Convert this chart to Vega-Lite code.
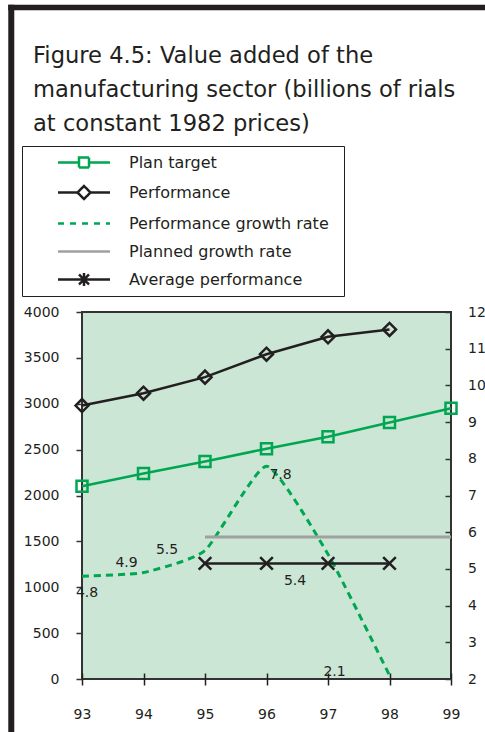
{
  "$schema": "https://vega.github.io/schema/vega-lite/v6.json",
  "width": 369,
  "height": 367,
  "autosize": {"type": "none"},
  "padding": {"left": 82, "top": 312, "right": 34, "bottom": 53},
  "background": "white",
  "title": {
    "text": ["Figure 4.5: Value added of the", "manufacturing sector (billions of rials", "at constant 1982 prices)"],
    "anchor": "start",
    "frame": "group",
    "orient": "top",
    "font": "DejaVu Sans",
    "fontSize": 22.6,
    "fontWeight": "normal",
    "color": "#231f20",
    "lineHeight": 34,
    "dx": -49,
    "offset": -134
  },
  "config": {
    "view": {"stroke": "#333333", "strokeWidth": 2, "fill": "#cbe6d5"},
    "font": "DejaVu Sans",
    "axis": {"labelOverlap": false, "labelFlush": false, "labelBound": false, "grid": false},
    "axisRight": {"tickCount": 11, "labelOverlap": false}
  },
  "data": {
    "values": [
      {"year": 93, "series": "Plan target", "value": 2100},
      {"year": 94, "series": "Plan target", "value": 2240},
      {"year": 95, "series": "Plan target", "value": 2370},
      {"year": 96, "series": "Plan target", "value": 2510},
      {"year": 97, "series": "Plan target", "value": 2640},
      {"year": 98, "series": "Plan target", "value": 2795},
      {"year": 99, "series": "Plan target", "value": 2950},
      {"year": 93, "series": "Performance", "value": 2980},
      {"year": 94, "series": "Performance", "value": 3115},
      {"year": 95, "series": "Performance", "value": 3290},
      {"year": 96, "series": "Performance", "value": 3540},
      {"year": 97, "series": "Performance", "value": 3730},
      {"year": 98, "series": "Performance", "value": 3810},
      {"year": 93, "series": "Performance growth rate", "value": 4.8},
      {"year": 94, "series": "Performance growth rate", "value": 4.9},
      {"year": 95, "series": "Performance growth rate", "value": 5.5},
      {"year": 96, "series": "Performance growth rate", "value": 7.8},
      {"year": 97, "series": "Performance growth rate", "value": 5.4},
      {"year": 98, "series": "Performance growth rate", "value": 2.1},
      {"year": 95, "series": "Planned growth rate", "value": 5.87},
      {"year": 96, "series": "Planned growth rate", "value": 5.87},
      {"year": 97, "series": "Planned growth rate", "value": 5.87},
      {"year": 98, "series": "Planned growth rate", "value": 5.87},
      {"year": 99, "series": "Planned growth rate", "value": 5.87},
      {"year": 95, "series": "Average performance", "value": 5.15},
      {"year": 96, "series": "Average performance", "value": 5.15},
      {"year": 97, "series": "Average performance", "value": 5.15},
      {"year": 98, "series": "Average performance", "value": 5.15}
    ]
  },
  "resolve": {"scale": {"y": "independent"}},
  "layer": [
    {
      "layer": [
        {
          "transform": [{"filter": "datum.series === 'Plan target'"}],
          "mark": {"type": "line", "strokeWidth": 2.5, "point": {"shape": "square", "filled": false, "size": 121, "strokeWidth": 2.5}},
          "encoding": {
            "x": {
              "field": "year", "type": "quantitative",
              "scale": {"domain": [93, 99], "nice": false, "zero": false},
              "axis": {
                "values": [93, 94, 95, 96, 97, 98, 99], "format": "d", "title": null, "grid": false,
                "domain": false, "offset": -6, "tickSize": 12, "tickColor": "#231f20", "tickWidth": 1.5,
                "labelFont": "DejaVu Sans", "labelFontSize": 14, "labelColor": "#231f20", "labelPadding": 22,
                "labelFlush": false, "labelOverlap": false, "labelBound": false
              }
            },
            "y": {
              "field": "value", "type": "quantitative",
              "scale": {"domain": [0, 4000], "nice": false, "zero": false},
              "axis": {
                "values": [0, 500, 1000, 1500, 2000, 2500, 3000, 3500, 4000], "format": "d", "title": null, "grid": false,
                "domain": false, "tickSize": 6, "tickColor": "#333333", "tickWidth": 1.5,
                "labelFont": "DejaVu Sans", "labelFontSize": 14, "labelColor": "#231f20", "labelPadding": 17,
                "labelFlush": false, "labelOverlap": false, "labelBound": false
              }
            },
            "color": {
              "field": "series", "type": "nominal",
              "scale": {
                "domain": ["Plan target", "Performance", "Performance growth rate", "Planned growth rate", "Average performance"],
                "range": ["#00a651", "#231f20", "#00a651", "#a0a0a0", "#231f20"]
              },
              "legend": {
                "orient": "none", "legendX": -60, "legendY": -166, "title": null,
                "padding": 5, "strokeColor": "#231f20", "fillColor": "white",
                "symbolSize": 400, "symbolStrokeWidth": 2.5, "symbolOffset": 45.5, "labelOffset": 33.5,
                "rowPadding": 8, "labelFont": "DejaVu Sans", "labelFontSize": 16, "labelColor": "#231f20", "labelLimit": 400,
                "encode": {
                  "symbols": {
                    "update": {
                      "shape": {"signal": "datum.value === 'Plan target' ? 'M-5.7,0M25,0M-2.6,0H-0.5M0.5,0H2.6M-0.5,-0.5H0.5V0.5H-0.5Z' : datum.value === 'Performance' ? 'M-5.7,0M25,0M-2.6,0H-0.65M0.65,0H2.6M-0.65,0L0,-0.65L0.65,0L0,0.65Z' : datum.value === 'Average performance' ? 'M-5.7,0M25,0M-2.6,0H2.6M-0.5,-0.5L0.5,0.5M0.5,-0.5L-0.5,0.5M0,-0.65V0.65' : 'M-5.7,0M25,0M-2.6,0H2.6'"},
                      "strokeDash": {"signal": "datum.value === 'Performance growth rate' ? [6, 6] : [1, 0]"},
                      "stroke": {"signal": "scale('color', datum.value)"},
                      "fill": {"value": "white"},
                      "strokeWidth": {"value": 2.5},
                      "opacity": {"value": 1}
                    }
                  }
                }
              }
            }
          }
        },
        {
          "transform": [{"filter": "datum.series === 'Performance'"}],
          "mark": {"type": "line", "strokeWidth": 2.5, "point": {"shape": "diamond", "filled": false, "size": 169, "strokeWidth": 2.5}},
          "encoding": {
            "x": {"field": "year", "type": "quantitative"},
            "y": {"field": "value", "type": "quantitative"},
            "color": {"field": "series", "type": "nominal"}
          }
        },
        {
          "data": {"values": [{"part": "left"}]},
          "mark": {"type": "rule", "strokeWidth": 6, "color": "#231f20"},
          "encoding": {
            "x": {"datum": 91.85},
            "y": {"datum": 7349},
            "y2": {"datum": -600}
          }
        },
        {
          "data": {"values": [{"part": "top"}]},
          "mark": {"type": "rule", "strokeWidth": 5.6, "color": "#231f20"},
          "encoding": {
            "x": {"datum": 91.8},
            "x2": {"datum": 100},
            "y": {"datum": 7319}
          }
        }
      ]
    },
    {
      "layer": [
        {
          "transform": [{"filter": "datum.series === 'Performance growth rate'"}],
          "mark": {"type": "line", "strokeWidth": 3, "strokeDash": [7, 5], "interpolate": "cardinal", "tension": 0.5},
          "encoding": {
            "x": {"field": "year", "type": "quantitative"},
            "y": {
              "field": "value", "type": "quantitative",
              "scale": {"domain": [2, 12], "nice": false, "zero": false},
              "axis": {"orient": "right", "values": [2, 3, 4, 5, 6, 7, 8, 9, 10, 11, 12], "tickCount": 11, "format": "d", "title": null, "grid": false, "domain": false, "offset": -6, "tickSize": 6, "tickColor": "#333333", "tickWidth": 1.5, "labelFont": "DejaVu Sans", "labelFontSize": 14, "labelColor": "#231f20", "labelPadding": 16.5, "labelFlush": false, "labelOverlap": false, "labelBound": false}
            },
            "color": {"field": "series", "type": "nominal"}
          }
        },
        {
          "transform": [{"filter": "datum.series === 'Planned growth rate'"}],
          "mark": {"type": "line", "strokeWidth": 3},
          "encoding": {
            "x": {"field": "year", "type": "quantitative"},
            "y": {"field": "value", "type": "quantitative",
              "axis": {"orient": "right", "values": [2, 3, 4, 5, 6, 7, 8, 9, 10, 11, 12], "tickCount": 11, "format": "d", "title": null, "grid": false, "domain": false, "offset": -6, "tickSize": 6, "tickColor": "#333333", "tickWidth": 1.5, "labelFont": "DejaVu Sans", "labelFontSize": 14, "labelColor": "#231f20", "labelPadding": 16.5, "labelFlush": false, "labelOverlap": false, "labelBound": false}},
            "color": {"field": "series", "type": "nominal"}
          }
        },
        {
          "transform": [{"filter": "datum.series === 'Average performance'"}],
          "mark": {"type": "line", "strokeWidth": 2.5, "point": {"shape": "M-1,-1L1,1M1,-1L-1,1", "filled": false, "size": 160, "strokeWidth": 2.5}},
          "encoding": {
            "x": {"field": "year", "type": "quantitative"},
            "y": {"field": "value", "type": "quantitative",
              "axis": {"orient": "right", "values": [2, 3, 4, 5, 6, 7, 8, 9, 10, 11, 12], "tickCount": 11, "format": "d", "title": null, "grid": false, "domain": false, "offset": -6, "tickSize": 6, "tickColor": "#333333", "tickWidth": 1.5, "labelFont": "DejaVu Sans", "labelFontSize": 14, "labelColor": "#231f20", "labelPadding": 16.5, "labelFlush": false, "labelOverlap": false, "labelBound": false}},
            "color": {"field": "series", "type": "nominal"}
          }
        },
        {
          "transform": [{"filter": "datum.series === 'Performance growth rate' && datum.year === 93"}],
          "mark": {"type": "text", "dx": 5, "dy": 17, "fontSize": 14, "font": "DejaVu Sans", "color": "#231f20"},
          "encoding": {
            "x": {"field": "year", "type": "quantitative"},
            "y": {"field": "value", "type": "quantitative",
              "axis": {"orient": "right", "values": [2, 3, 4, 5, 6, 7, 8, 9, 10, 11, 12], "tickCount": 11, "format": "d", "title": null, "grid": false, "domain": false, "offset": -6, "tickSize": 6, "tickColor": "#333333", "tickWidth": 1.5, "labelFont": "DejaVu Sans", "labelFontSize": 14, "labelColor": "#231f20", "labelPadding": 16.5, "labelFlush": false, "labelOverlap": false, "labelBound": false}},
            "text": {"field": "value", "type": "quantitative", "format": ".1f"}
          }
        },
        {
          "transform": [{"filter": "datum.series === 'Performance growth rate' && datum.year === 94"}],
          "mark": {"type": "text", "dx": -17, "dy": -10, "fontSize": 14, "font": "DejaVu Sans", "color": "#231f20"},
          "encoding": {
            "x": {"field": "year", "type": "quantitative"},
            "y": {"field": "value", "type": "quantitative",
              "axis": {"orient": "right", "values": [2, 3, 4, 5, 6, 7, 8, 9, 10, 11, 12], "tickCount": 11, "format": "d", "title": null, "grid": false, "domain": false, "offset": -6, "tickSize": 6, "tickColor": "#333333", "tickWidth": 1.5, "labelFont": "DejaVu Sans", "labelFontSize": 14, "labelColor": "#231f20", "labelPadding": 16.5, "labelFlush": false, "labelOverlap": false, "labelBound": false}},
            "text": {"field": "value", "type": "quantitative", "format": ".1f"}
          }
        },
        {
          "transform": [{"filter": "datum.series === 'Performance growth rate' && datum.year === 95"}],
          "mark": {"type": "text", "dx": -38, "dy": -1, "fontSize": 14, "font": "DejaVu Sans", "color": "#231f20"},
          "encoding": {
            "x": {"field": "year", "type": "quantitative"},
            "y": {"field": "value", "type": "quantitative",
              "axis": {"orient": "right", "values": [2, 3, 4, 5, 6, 7, 8, 9, 10, 11, 12], "tickCount": 11, "format": "d", "title": null, "grid": false, "domain": false, "offset": -6, "tickSize": 6, "tickColor": "#333333", "tickWidth": 1.5, "labelFont": "DejaVu Sans", "labelFontSize": 14, "labelColor": "#231f20", "labelPadding": 16.5, "labelFlush": false, "labelOverlap": false, "labelBound": false}},
            "text": {"field": "value", "type": "quantitative", "format": ".1f"}
          }
        },
        {
          "transform": [{"filter": "datum.series === 'Performance growth rate' && datum.year === 96"}],
          "mark": {"type": "text", "dx": 14, "dy": 9, "fontSize": 14, "font": "DejaVu Sans", "color": "#231f20"},
          "encoding": {
            "x": {"field": "year", "type": "quantitative"},
            "y": {"field": "value", "type": "quantitative",
              "axis": {"orient": "right", "values": [2, 3, 4, 5, 6, 7, 8, 9, 10, 11, 12], "tickCount": 11, "format": "d", "title": null, "grid": false, "domain": false, "offset": -6, "tickSize": 6, "tickColor": "#333333", "tickWidth": 1.5, "labelFont": "DejaVu Sans", "labelFontSize": 14, "labelColor": "#231f20", "labelPadding": 16.5, "labelFlush": false, "labelOverlap": false, "labelBound": false}},
            "text": {"field": "value", "type": "quantitative", "format": ".1f"}
          }
        },
        {
          "transform": [{"filter": "datum.series === 'Performance growth rate' && datum.year === 97"}],
          "mark": {"type": "text", "dx": -33, "dy": 27, "fontSize": 14, "font": "DejaVu Sans", "color": "#231f20"},
          "encoding": {
            "x": {"field": "year", "type": "quantitative"},
            "y": {"field": "value", "type": "quantitative",
              "axis": {"orient": "right", "values": [2, 3, 4, 5, 6, 7, 8, 9, 10, 11, 12], "tickCount": 11, "format": "d", "title": null, "grid": false, "domain": false, "offset": -6, "tickSize": 6, "tickColor": "#333333", "tickWidth": 1.5, "labelFont": "DejaVu Sans", "labelFontSize": 14, "labelColor": "#231f20", "labelPadding": 16.5, "labelFlush": false, "labelOverlap": false, "labelBound": false}},
            "text": {"field": "value", "type": "quantitative", "format": ".1f"}
          }
        },
        {
          "transform": [{"filter": "datum.series === 'Performance growth rate' && datum.year === 98"}],
          "mark": {"type": "text", "dx": -55, "dy": -3, "fontSize": 14, "font": "DejaVu Sans", "color": "#231f20"},
          "encoding": {
            "x": {"field": "year", "type": "quantitative"},
            "y": {"field": "value", "type": "quantitative",
              "axis": {"orient": "right", "values": [2, 3, 4, 5, 6, 7, 8, 9, 10, 11, 12], "tickCount": 11, "format": "d", "title": null, "grid": false, "domain": false, "offset": -6, "tickSize": 6, "tickColor": "#333333", "tickWidth": 1.5, "labelFont": "DejaVu Sans", "labelFontSize": 14, "labelColor": "#231f20", "labelPadding": 16.5, "labelFlush": false, "labelOverlap": false, "labelBound": false}},
            "text": {"field": "value", "type": "quantitative", "format": ".1f"}
          }
        }
      ]
    }
  ]
}
